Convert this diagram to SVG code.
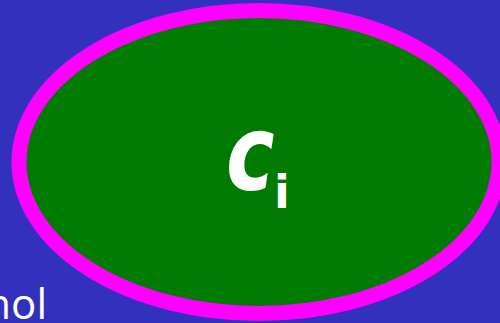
<svg xmlns="http://www.w3.org/2000/svg" width="500" height="323" viewBox="0 0 500 323">
<style>
.bg{fill:#3131BD}
.node{fill:#007A00;stroke:#FF00FF;stroke-width:15}
.lbl{fill:#FFFFFF;font-family:"DejaVu Sans",sans-serif;font-weight:bold}
.cap{fill:#FFFFFF;font-family:"Open Sans","Liberation Sans",sans-serif;font-size:42px}
</style>
<rect class="bg" x="0" y="0" width="500" height="323"/>
<text class="cap" x="47" y="319" text-anchor="end">nol</text>
<g id="node-ci">
<ellipse class="node" cx="259" cy="162" rx="240" ry="151.5"/>
<text class="lbl" transform="translate(226,190) scale(0.82,1.05)" font-size="100" font-style="italic">c</text>
<text class="lbl" x="274" y="208" font-size="46">i</text>
</g>
<g id="connectors"/>
</svg>
